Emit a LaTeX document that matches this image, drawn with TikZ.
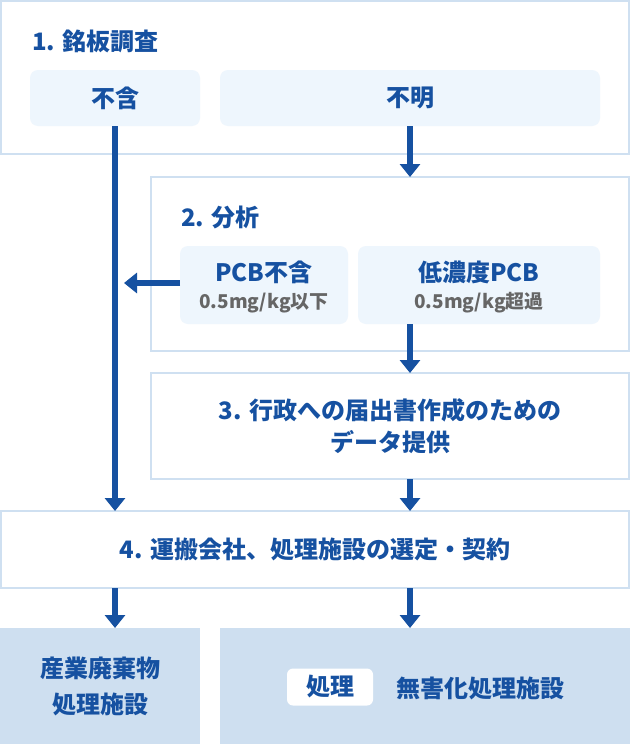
\documentclass[tikz,border=0pt]{standalone}
\usepackage{fontspec}
\setmainfont{Noto Sans CJK JP}
\usepackage{tikz}
\usetikzlibrary{arrows.meta}
\definecolor{flowblue}{HTML}{1651A1}
\definecolor{frameblue}{HTML}{CFE0F1}
\definecolor{paleblue}{HTML}{EEF6FD}
\definecolor{exitblue}{HTML}{CEDFF0}
\definecolor{notegray}{HTML}{666666}
\newcommand{\headfont}{\fontsize{24}{32}\selectfont\bfseries}
\newcommand{\notefont}{\fontsize{19}{24}\selectfont\bfseries}

\begin{document}
\begin{tikzpicture}[x=1pt, y=-1pt,
  stepbox/.style={draw=frameblue, line width=2pt, fill=white, anchor=north west, inner sep=0pt, outer sep=0pt, align=center, font=\headfont, text=flowblue},
  choicebox/.style={fill=paleblue, rounded corners=8pt, anchor=north west, inner sep=0pt, outer sep=0pt, font=\headfont, text=flowblue},
  exitbox/.style={fill=exitblue, anchor=north west, inner sep=0pt, outer sep=0pt, align=center, font=\headfont, text=flowblue},
  steptitle/.style={anchor=west, inner sep=0pt, font=\headfont, text=flowblue},
  flow/.style={draw=flowblue, line width=5.5pt, -{Triangle[width=20pt,length=13pt]}}
]
\fill[white] (0,0) rectangle (630,744);
\useasboundingbox (0,0) rectangle (630,744);

\begin{scope} % STEP 1
\node[stepbox, minimum width=628pt, minimum height=153pt] (step1) at (1,1) {};
\node[steptitle] (title1) at (32,41) {1. 銘板調査};
\node[choicebox, minimum width=170pt, minimum height=56pt] (notcontain) at (30,70) {不含};
\node[choicebox, minimum width=380pt, minimum height=56pt] (unknown) at (220,70) {不明};
\end{scope}

\begin{scope} % STEP 2
\node[stepbox, minimum width=478pt, minimum height=174pt] (step2) at (151,177) {};
\node[steptitle] (title2) at (181,217) {2. 分析};
\node[choicebox, minimum width=168pt, minimum height=78pt] (nopcb) at (180,246) {};
\node[choicebox, minimum width=242pt, minimum height=78pt] (lowpcb) at (358,246) {};

\node[font=\headfont, text=flowblue, inner sep=0pt] (nopcbname) at (264,272) {PCB不含};
\node[font=\notefont, text=notegray, inner sep=0pt] (nopcbnote) at (264,303) {0.5mg/kg以下};
\node[font=\headfont, text=flowblue, inner sep=0pt] (lowpcbname) at (479,272) {低濃度PCB};
\node[font=\notefont, text=notegray, inner sep=0pt] (lowpcbnote) at (479,303) {0.5mg/kg超過};
\end{scope}

\begin{scope} % STEP 3 AND 4
\node[stepbox, minimum width=478pt, minimum height=106pt] (step3) at (151,373) {3. 行政への届出書作成のための\\データ提供};
\node[stepbox, minimum width=628pt, minimum height=77pt] (step4) at (1,511) {4. 運搬会社、処理施設の選定・契約};
\end{scope}

\begin{scope} % EXITS
\node[exitbox, minimum width=200pt, minimum height=116pt, font={\fontsize{24}{36}\selectfont\bfseries}] (industrial) at (0,628) {産業廃棄物\\処理施設};
\node[exitbox, minimum width=410pt, minimum height=116pt] (harmless) at (220,628) {};
\node[fill=white, rounded corners=6pt, minimum width=86pt, minimum height=37pt, inner sep=0pt, font=\headfont, text=flowblue] (treat) at (330,687) {処理};
\node[anchor=west, inner sep=0pt, font=\headfont, text=flowblue] (harmlessname) at (396,688) {無害化処理施設};
\end{scope}

% arrows
\draw[flow] (notcontain.south) -- (notcontain.south |- step4.north);
\draw[flow] (unknown.south) -- (unknown.south |- step2.north);
\draw[flow, shorten >=9pt] ([yshift=2pt]nopcb.west) -- ([yshift=2pt]nopcb.west -| notcontain.south);
\draw[flow] (unknown.south |- lowpcb.south) -- (unknown.south |- step3.north);
\draw[flow] (unknown.south |- step3.south) -- (unknown.south |- step4.north);
\draw[flow] (notcontain.south |- step4.south) -- (notcontain.south |- industrial.north);
\draw[flow] (unknown.south |- step4.south) -- (unknown.south |- harmless.north);
\end{tikzpicture}
\end{document}
